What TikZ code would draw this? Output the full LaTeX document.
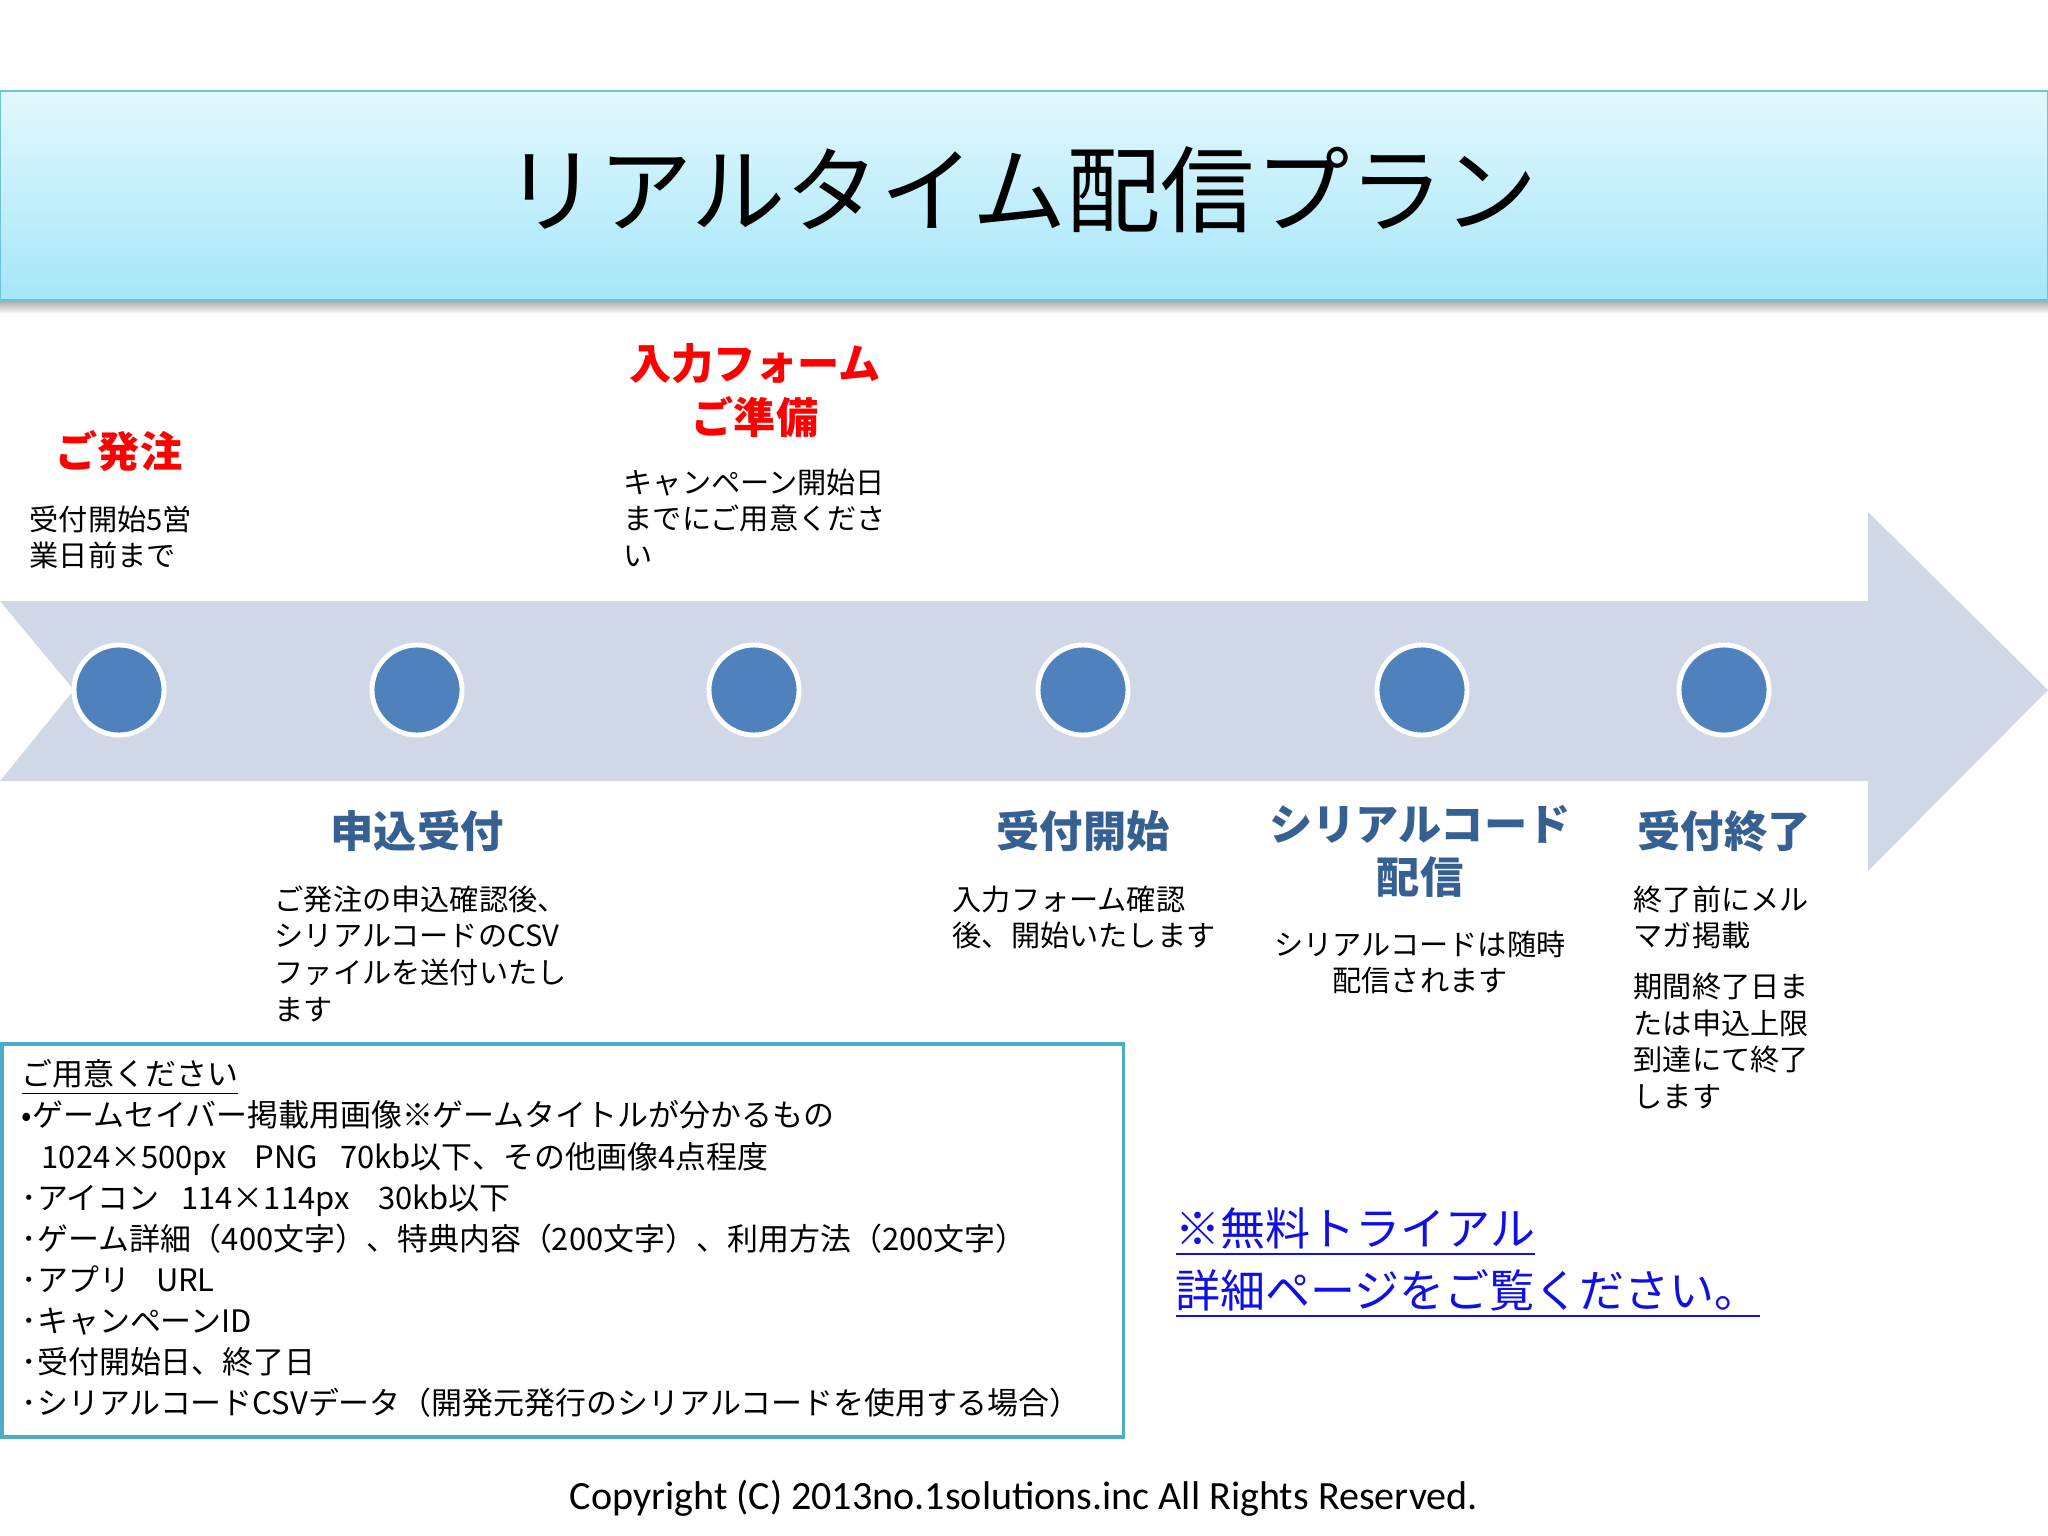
\documentclass[tikz,border=0pt]{standalone}
\usepackage{fontspec}
\setmainfont{Noto Sans CJK JP}
\newfontfamily\copyfont{Carlito}
\definecolor{dotblue}{HTML}{4F81BD}
\definecolor{bandgray}{HTML}{D0D8E8}
\definecolor{headred}{HTML}{FF0000}
\definecolor{headblue}{HTML}{376092}
\definecolor{bannertop}{HTML}{E2F8FD}
\definecolor{bannerbot}{HTML}{A5E6F8}
\definecolor{bannerline}{HTML}{6FC2D6}
\definecolor{boxline}{HTML}{4BACC6}
\definecolor{linkblue}{HTML}{1010E6}

\begin{document}
\begin{tikzpicture}[x=0.01cm,y=-0.01cm,
  banner/.style={draw=bannerline,line width=0.8pt,top color=bannertop,bottom color=bannerbot,
    minimum width=20.48cm,minimum height=2.09cm,inner sep=0pt},
  dot/.style={circle,fill=dotblue,draw=white,line width=1.4pt,minimum size=0.9cm,inner sep=0pt},
  red head/.style={text=headred,font=\fontsize{12pt}{15.4pt}\selectfont\bfseries,align=center,inner sep=0pt},
  blue head/.style={text=headblue,font=\fontsize{12.3pt}{14.8pt}\selectfont\bfseries,align=center,inner sep=0pt},
  desc/.style={font=\fontsize{8.3pt}{10.4pt}\selectfont,align=left,inner sep=0pt,anchor=north west}]
  \useasboundingbox (0,0) rectangle (2048,1536);
  \fill[white] (0,0) rectangle (2048,1536);

  \shade[top color=black!35,bottom color=white] (0,300) rectangle (2048,314);
  \node[banner] (banner) at (1024,195.5) {};
  \node[font=\fontsize{26.8pt}{30pt}\selectfont] (title) at (1021,190) {リアルタイム配信プラン};

  \fill[bandgray] (0,601) -- (1868,601) -- (1868,512) -- (2048,690) -- (1868,871)
    -- (1868,781) -- (0,781) -- (74,690) -- cycle;
  \foreach \x [count=\i] in {119,417,754,1083,1422,1724}
    \node[dot] (d\i) at (\x,690) {};

  \node[red head] (order) at (119,451) {ご発注};
  \node[red head,anchor=north] (form) at (755,343) {入力フォーム\\ご準備};
  \node[desc] (order text) at (29,505) {受付開始5営\\業日前まで};
  \node[desc] (form text) at (623,468) {キャンペーン開始日\\までにご用意くださ\\い};

  \node[blue head] (entry) at (417,831) {申込受付};
  \node[blue head] (start) at (1083,831) {受付開始};
  \node[blue head,anchor=north] (serial) at (1420,805) {シリアルコード\\配信};
  \node[blue head] (close) at (1724,831) {受付終了};
  \node[desc] (entry text) at (274,885) {ご発注の申込確認後、\\シリアルコードのCSV\\ファイルを送付いたし\\ます};
  \node[desc] (start text) at (952,885) {入力フォーム確認\\後、開始いたします};
  \node[desc,anchor=north,align=center] (serial text) at (1420,930) {シリアルコードは随時\\配信されます};
  \node[desc] (close text) at (1633,885) {終了前にメル\\マガ掲載\\[4pt]期間終了日ま\\たは申込上限\\到達にて終了\\します};

  \node[draw=boxline,line width=1pt,minimum width=11.21cm,minimum height=3.93cm,inner sep=0pt,
    anchor=north west] (prep box) at (0,1042) {};
  \node[desc,font=\fontsize{8.8pt}{11.7pt}\selectfont] (prep list) at (21,1059) {\underline{ご用意ください}\\
    •ゲームセイバー掲載用画像※ゲームタイトルが分かるもの\\
    \hspace*{0.2cm}1024×500px\hspace{0.28cm}PNG\hspace{0.22cm}70kb以下、その他画像4点程度\\
    ･アイコン\hspace{0.22cm}114×114px\hspace{0.29cm}30kb以下\\
    ･ゲーム詳細（400文字）、特典内容（200文字）、利用方法（200文字）\\
    ･アプリ\hspace{0.26cm}URL\\
    ･キャンペーンID\\
    ･受付開始日、終了日\\
    ･シリアルコードCSVデータ（開発元発行のシリアルコードを使用する場合）};

  \node[desc,text=linkblue,font=\fontsize{12.8pt}{17.6pt}\selectfont] (trial) at (1175,1207)
    {\underline{※無料トライアル}\\\underline{詳細ページをご覧ください。}};

  \node[font=\copyfont\fontsize{11.4pt}{13pt}\selectfont] (copy) at (1024,1498)
    {Copyright (C) 2013no.1solutions.inc All Rights Reserved.};
\end{tikzpicture}
\end{document}
